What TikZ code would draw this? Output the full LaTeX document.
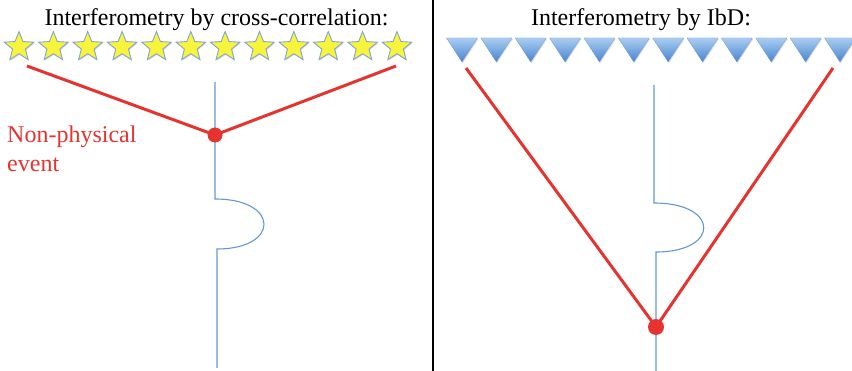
\documentclass[tikz,border=0pt]{standalone}
\usepackage{fontspec}
\setmainfont{Liberation Serif}
\newfontfamily\serifface{Liberation Serif}
\usetikzlibrary{shapes.geometric,shadows,backgrounds}
\definecolor{evred}{RGB}{229,52,48}
\definecolor{wellblue}{RGB}{100,150,212}
\definecolor{staryel}{RGB}{248,244,60}
\definecolor{starline}{RGB}{130,165,210}
\definecolor{tritop}{RGB}{170,205,242}
\definecolor{tribot}{RGB}{72,132,206}
\tikzset{
  bigtext/.style={font=\serifface\fontsize{24}{29}\selectfont, inner sep=0pt},
  title/.style={bigtext, anchor=base},
  sourcestar/.style={star, star points=5, star point ratio=2.3, minimum size=31pt,
    inner sep=0pt, fill=staryel, draw=starline, line width=0.9pt,
    drop shadow={opacity=0.25, shadow xshift=0.8pt, shadow yshift=-1.2pt}},
  receiver/.style={top color=tritop, bottom color=tribot, draw=tribot!80!white, line width=0.3pt,
    drop shadow={opacity=0.25, shadow xshift=0.8pt, shadow yshift=-1.2pt}},
  ray/.style={evred, line width=3pt},
  event/.style={circle, fill=evred, inner sep=0pt},
  well/.style={wellblue, line width=1.1pt},
  divider/.style={black, line width=2.5pt}
}
\begin{document}
\begin{tikzpicture}[x=1pt,y=-1pt]
\useasboundingbox (0,0) rectangle (852,371);
% divider
\draw[divider] (433,0) -- (433,371);
% titles
\node[title] (tl) at (216.5,26) {Interferometry by cross-correlation:};
\node[title] (tr) at (641,26) {Interferometry by IbD:};
% left: stars
\foreach \i in {0,...,11} {
  \node[sourcestar] (s\i) at ({19+34.36*\i},47) {};
}
% right: receivers
\foreach \j in {0,...,11} {
  \path[receiver] ({462+34.36*\j-15.5},38) -- ({462+34.36*\j+15.5},38) -- ({462+34.36*\j},62) -- cycle;
}
% wells
\draw[well] (215,82) -- (215,199) .. controls (280,199) and (280,249) .. (217,249) -- (217,368);
\draw[well] (654,85) -- (654,203) .. controls (720,203) and (720,252) .. (656,252) -- (656,371);
% events
\node[event, minimum size=15pt] (el) at (215,135) {};
\node[event, minimum size=16pt] (er) at (656,327) {};
\coordinate (la) at (27,66);
\coordinate (lb) at (396,66);
\coordinate (ra) at (466,68);
\coordinate (rb) at (833,68);
\begin{scope}[on background layer]
\draw[ray] (la) -- (el.center);
\draw[ray] (lb) -- (el.center);
\draw[ray] (ra) -- (er.center);
\draw[ray] (rb) -- (er.center);
\end{scope}
% label
\node[bigtext, text=evred, anchor=base west] (lab1) at (7,143) {Non-physical};
\node[bigtext, text=evred, anchor=base west] (lab2) at (7,172) {event};
\end{tikzpicture}
\end{document}
